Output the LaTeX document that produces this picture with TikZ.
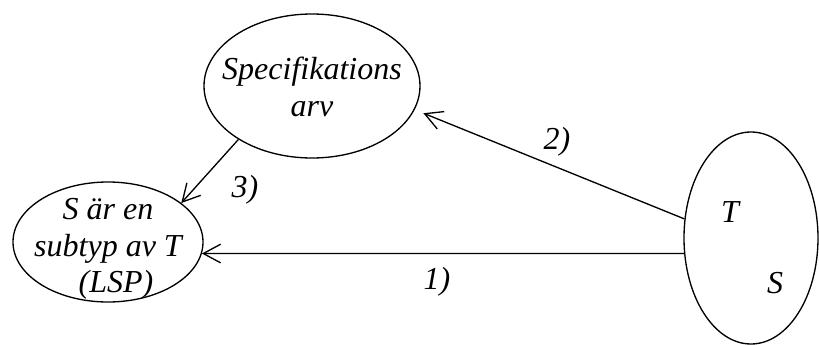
\documentclass[tikz,border=0pt]{standalone}
\usepackage{fontspec}
\setmainfont{Liberation Serif}
\usetikzlibrary{shapes.geometric,arrows.meta}

\begin{document}
\begin{tikzpicture}[x=0.75pt, y=0.75pt,
  bubble/.style={draw, line width=1pt, ellipse, inner sep=0pt},
  txt/.style={font=\fontsize{24}{27.5}\selectfont\itshape, align=center, inner sep=0pt},
  link/.style={line width=1pt, -{Straight Barb[length=13pt, width=14pt, line width=1pt]}}]
  \useasboundingbox (0,0) rectangle (819,344);
  % the three ellipses
  \node[bubble, minimum width=162pt, minimum height=108pt] (spec) at (312,258) {};
  \node[bubble, minimum width=142.5pt, minimum height=90pt] (lsp) at (108,102) {};
  \node[bubble, minimum width=100.5pt, minimum height=159pt] (ts) at (751,106) {};
  % texts inside
  \node[txt] (specText) at (312,257) {Specifikations\\arv\hspace{30pt}};
  \node[txt] (lspText) at (108,95) {S är en\\subtyp av T\\\hspace{12pt}(LSP)};
  \node[txt] (tText) at (730,132) {T};
  \node[txt] (sText) at (775,61) {S};
  % arrows
  \draw[link] (ts.193) -- (lsp.-7);
  \draw[link, shorten >=7pt] (ts.164) -- (spec.-13);
  \draw[link] (spec.216) -- (lsp.28);
  % numbering
  \node[txt] (oneLbl) at (437,62) {1)};
  \node[txt] (twoLbl) at (557,202) {2)};
  \node[txt] (threeLbl) at (245,154) {3)};
\end{tikzpicture}
\end{document}
